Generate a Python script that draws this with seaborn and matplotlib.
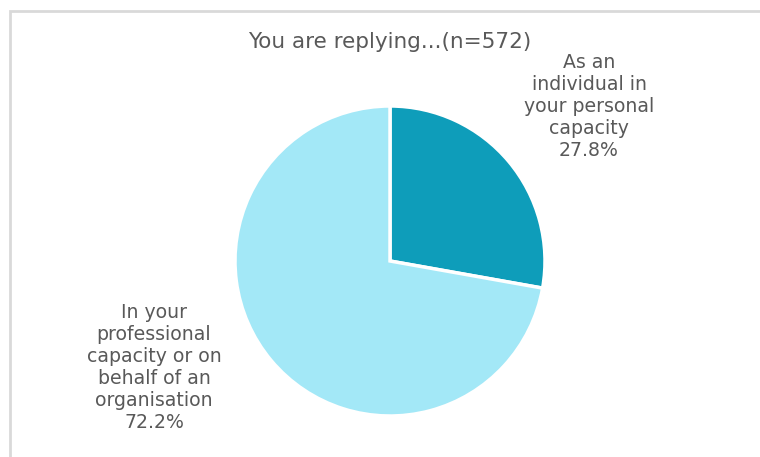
import matplotlib
matplotlib.use("Agg")
import matplotlib.pyplot as plt
import seaborn as sns
from matplotlib.patches import Rectangle

categories = ["As an\nindividual in\nyour personal\ncapacity",
              "In your\nprofessional\ncapacity or on\nbehalf of an\norganisation"]
shares = [27.8, 72.2]
colors = ["#0E9DBA", "#A3E8F7"]
title = "You are replying...(n=572)"

sns.set_theme(style="white")
plt.rcParams['font.family'] = ['DejaVu Sans']

W, H = 760, 457
fig = plt.figure(figsize=(W / 100, H / 100), dpi=100)
ax = fig.add_axes([0, 0, 1, 1])

# chart border (only left/top visible in frame)
fig.patches.append(Rectangle((10 / W, -0.1), 1.2, (H - 11) / H + 0.1,
                             transform=fig.transFigure, fill=False,
                             edgecolor="#D9D9D9", linewidth=2))

ax.pie(shares, colors=colors, startangle=90, counterclock=False,
       center=(390, H - 261), radius=155,
       wedgeprops=dict(edgecolor="white", linewidth=2.5), frame=True)
ax.set_xlim(0, W)
ax.set_ylim(0, H)
ax.axis("off")

txt = "#595959"
ax.text(389.5, H - 42, title, ha="center", va="center", fontsize=15.5, color=txt)
ax.text(589, H - 106, f"{categories[0]}\n{shares[0]:.1f}%", ha="center", va="center",
        fontsize=13.6, color=txt, linespacing=1.2)
ax.text(154, H - 367, f"{categories[1]}\n{shares[1]:.1f}%", ha="center", va="center",
        fontsize=13.6, color=txt, linespacing=1.2)

fig.savefig("out.png", dpi=100)
